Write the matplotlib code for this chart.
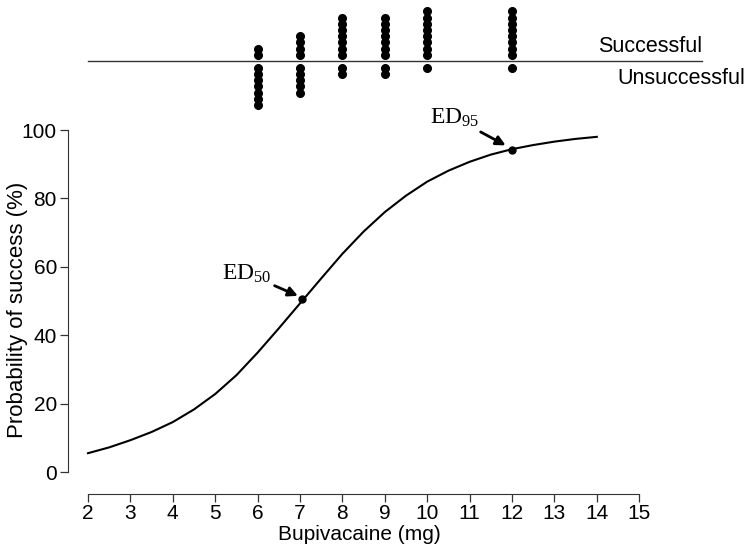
import matplotlib
matplotlib.use('Agg')
from matplotlib import pyplot
import numpy

pyplot.rcParams['font.family'] = ['Liberation Sans', 'DejaVu Sans']
pyplot.rcParams['mathtext.fontset'] = 'custom'
pyplot.rcParams['mathtext.rm'] = 'Liberation Serif'
pyplot.rcParams['mathtext.it'] = 'Liberation Serif:italic'

# dose groups and outcomes (dots above / below the line)
doses = [6, 7, 8, 9, 10, 12]
n_success = [2, 4, 7, 7, 8, 8]
n_fail = [7, 5, 2, 2, 1, 1]

# fitted dose-response curve
curve_dose = [2, 2.5, 3, 3.5, 4, 4.5, 5, 5.5, 6, 6.5, 7, 7.5, 8, 8.5, 9,
              9.5, 10, 10.5, 11, 11.5, 12, 12.5, 13, 13.5, 14]
curve_prob = [5.5, 7.2, 9.3, 11.7, 14.6, 18.3, 22.8, 28.3, 34.9, 42.0, 49.3,
              56.6, 63.8, 70.3, 76.0, 80.8, 84.9, 88.1, 90.7, 92.8, 94.4,
              95.6, 96.6, 97.4, 98.0]

ed_dose = [7.05, 12.0]
ed_prob = [50.5, 94.2]

x_ticks = list(range(2, 16))
y_ticks = [0, 20, 40, 60, 80, 100]

W, H = 745, 544
fig = pyplot.figure(figsize=(W / 100, H / 100), dpi=100)

# pixel -> data mapping: x=2 at px 88, 42.4 px per mg; y=0 at py 472, 3.42 px per %
px0, kx = 88, 42.4
py0, ky = 472, 3.42
left_px, right_px = 68, 650
top_px, bot_px = 120, 494

ax = fig.add_axes([left_px / W, 1 - bot_px / H, (right_px - left_px) / W, (bot_px - top_px) / H])
ax.set_xlim(2 - (px0 - left_px) / kx, 2 + (right_px - px0) / kx)
ax.set_ylim(-(bot_px - py0) / ky, (py0 - top_px) / ky)

ax.plot(curve_dose, curve_prob, color='black', lw=1.5, solid_joinstyle='round')
ax.plot(ed_dose, ed_prob, 'o', color='black', ms=5)

ax.annotate(r'$\mathrm{ED}_{50}$', xy=(6.95, 51.5), xytext=(5.75, 58),
            fontsize=17, ha='center', va='center',
            arrowprops=dict(arrowstyle='-|>', color='black', lw=2, mutation_scale=14,
                            shrinkA=0, shrinkB=0))
ax.annotate(r'$\mathrm{ED}_{95}$', xy=(11.85, 95.5), xytext=(10.65, 103.5),
            fontsize=17, ha='center', va='center', annotation_clip=False,
            arrowprops=dict(arrowstyle='-|>', color='black', lw=2, mutation_scale=14,
                            shrinkA=0, shrinkB=0))

for s in ['top', 'right']:
    ax.spines[s].set_visible(False)
ax.spines['left'].set_bounds(0, 100)
ax.spines['bottom'].set_bounds(2, 15)
ax.spines['left'].set_color('#333333')
ax.spines['bottom'].set_color('#333333')
ax.set_xticks(x_ticks)
ax.set_yticks(y_ticks)
ax.tick_params(direction='out', length=6, width=0.9, color='#333333', labelsize=15)
ax.tick_params(axis='x', pad=1.5)
ax.tick_params(axis='y', pad=2)

# axis titles placed in figure pixels
fig.text(359 / W, 1 - 540 / H, 'Bupivacaine (mg)', fontsize=15, ha='center', va='baseline')
fig.text(18 / W, 1 - 310 / H, 'Probability of success (%)', fontsize=16,
         rotation=90, ha='center', va='center')

# top strip with individual outcomes
line_py = 61
step = 6.2
strip_top, strip_bot = 0, 112
ax2 = fig.add_axes([left_px / W, 1 - strip_bot / H, (right_px - left_px) / W, (strip_bot - strip_top) / H])
ax2.set_xlim(ax.get_xlim())
ax2.set_ylim(-(strip_bot - line_py) / step, (line_py - strip_top) / step)
ax2.axis('off')
ax2.plot([2, 2 + (702 - px0) / kx], [0, 0], color='#333333', lw=1, clip_on=False)
for d, ns, nf in zip(doses, n_success, n_fail):
    ax2.plot([d] * ns, numpy.arange(1, ns + 1), 'o', color='black', ms=5.5)
    ax2.plot([d] * nf, -numpy.arange(1, nf + 1) - 0.1, 'o', color='black', ms=5.5)
ax2.text(2 + (650 - px0) / kx, 14 / step, 'Successful', fontsize=15.5, ha='center', va='center')
ax2.text(2 + (681 - px0) / kx, -17 / step, 'Unsuccessful', fontsize=15.5, ha='center', va='center')

fig.savefig('out.png', dpi=100)
